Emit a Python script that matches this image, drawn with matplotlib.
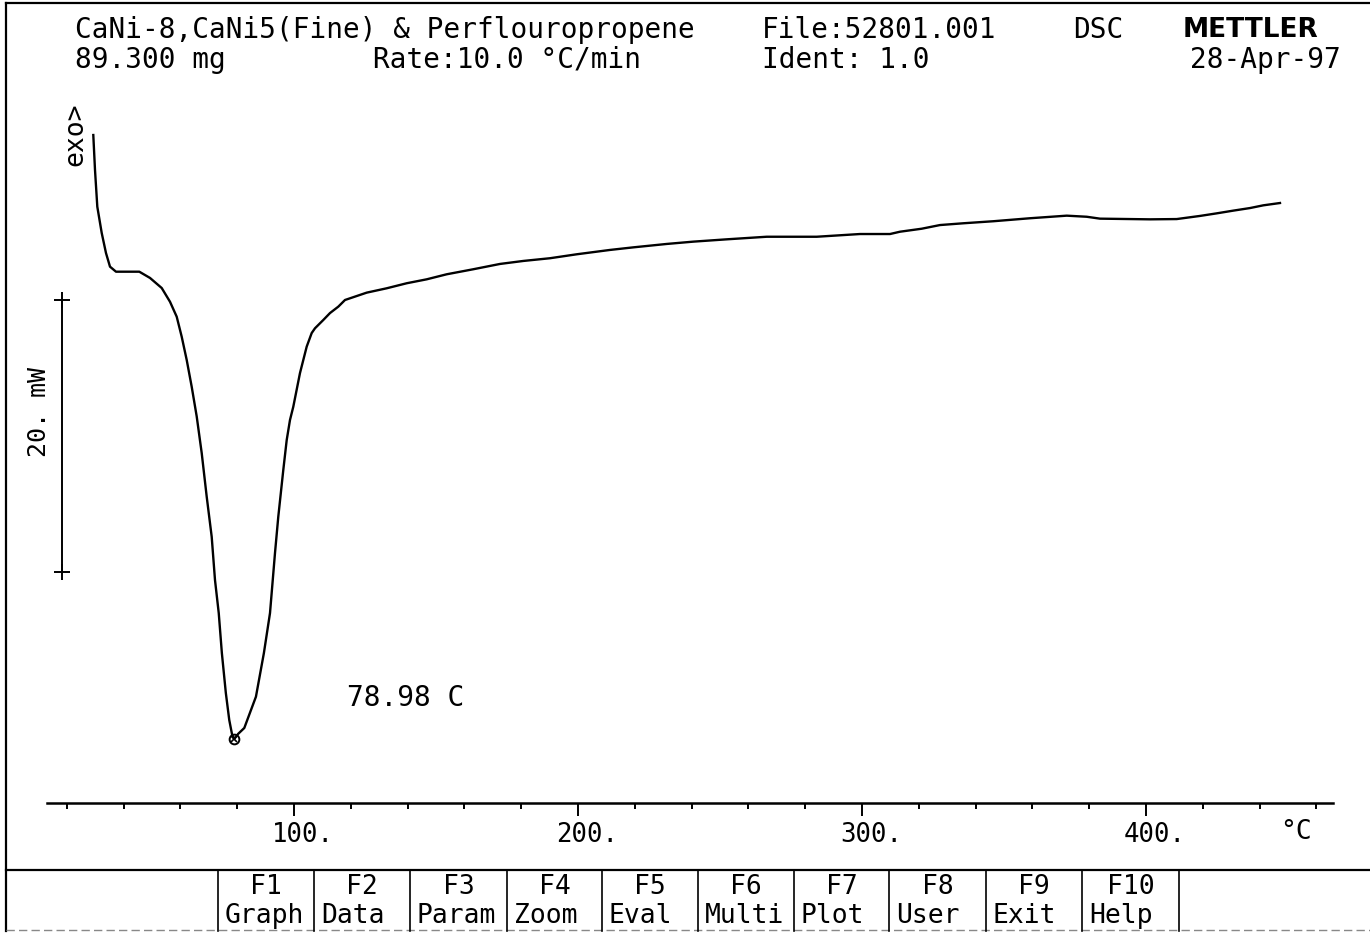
import matplotlib
matplotlib.use("Agg")
import matplotlib.pyplot as plt
from matplotlib.lines import Line2D
from matplotlib.transforms import ScaledTranslation
import numpy as np

# DSC heating curve: sample temperature (°C) and heat flow (mW, arbitrary offset)
temperature_c = [
    29.33, 29.93, 30.74, 32.29, 33.80, 35.21, 37.32, 45.53, 49.30, 53.42,
    56.34, 58.70, 60.46, 62.22, 63.98, 65.74, 67.50, 69.26, 71.02, 72.18,
    73.50, 74.60, 76.00, 77.20, 78.20, 78.98, 80.30, 82.50, 86.60, 89.40,
    91.55, 93.31, 94.47, 96.23, 97.43, 98.59, 99.75, 102.11, 104.47, 106.23,
    107.39, 110.32, 112.68, 115.60, 117.96, 125.60, 132.64, 139.68, 146.73, 153.77,
    163.13, 172.54, 180.74, 190.14, 199.54, 211.27, 219.47, 231.23, 240.60, 252.36,
    266.44, 284.05, 299.30, 309.86, 313.38, 321.02, 327.46, 335.67, 346.23, 359.15,
    372.08, 379.12, 383.80, 401.41, 410.81, 419.01, 424.89, 430.74, 436.62, 441.30,
    447.18,
]
heat_flow_mw = [
    34.19, 31.62, 28.92, 26.99, 25.51, 24.51, 24.14, 24.14, 23.68, 22.94,
    21.93, 20.83, 19.36, 17.65, 15.68, 13.50, 10.81, 7.60, 4.65, 1.47,
    -0.96, -3.90, -6.84, -8.82, -9.90, -10.22, -9.85, -9.41, -7.11, -3.90,
    -0.96, 3.46, 6.13, 9.56, 11.76, 13.24, 14.21, 16.69, 18.63, 19.63,
    19.98, 20.59, 21.10, 21.57, 22.06, 22.60, 22.92, 23.29, 23.58, 23.95,
    24.32, 24.71, 24.93, 25.13, 25.42, 25.74, 25.93, 26.18, 26.35, 26.52,
    26.71, 26.71, 26.91, 26.91, 27.08, 27.30, 27.57, 27.70, 27.85, 28.07,
    28.26, 28.18, 28.04, 27.99, 28.01, 28.24, 28.43, 28.63, 28.82, 29.02,
    29.19,
]

major_ticks = [100, 200, 300, 400]
major_labels = ["100.", "200.", "300.", "400."]
minor_ticks = list(range(20, 461, 20))

scale_bar_mw = 20.0
scale_bar_x = 18.3
scale_bar_bottom = 2.06

header_left = ["CaNi-8,CaNi5(Fine) & Perflouropropene", "89.300 mg"]
header_mid = ["Rate:10.0 °C/min"]
header_file = ["File:52801.001", "Ident: 1.0"]
header_mode = "DSC"
header_brand = "METTLER"
header_date = "28-Apr-97"

fkey_ids = ["F1", "F2", "F3", "F4", "F5", "F6", "F7", "F8", "F9", "F10"]
fkey_names = ["Graph", "Data", "Param", "Zoom", "Eval", "Multi", "Plot", "User", "Exit", "Help"]

MONO = "DejaVu Sans Mono"
W, H = 1370, 933
fig = plt.figure(figsize=(W / 100, H / 100), dpi=100, facecolor="white")

# Screen frame, header and function-key bar in pixel coordinates
frame = fig.add_axes([0, 0, 1, 1])
frame.set_xlim(0, W)
frame.set_ylim(H, 0)
frame.axis("off")

frame.add_line(Line2D([6, W], [3, 3], color="black", lw=1.6))
frame.add_line(Line2D([6, 6], [3, 931], color="black", lw=1.6))
frame.add_line(Line2D([6, W], [870, 870], color="black", lw=1.6))
frame.add_line(Line2D([6, W], [930, 930], color="#888888", lw=1.0, ls=(0, (6, 3))))

seps = [218, 314, 410, 507, 602, 698, 794, 889, 986, 1082, 1179]
for sx in seps:
    frame.add_line(Line2D([sx, sx], [870, 931], color="black", lw=1.2))
for i, (fid, name) in enumerate(zip(fkey_ids, fkey_names)):
    left, right = seps[i], seps[i + 1]
    frame.text((left + right) / 2, 887, fid, family=MONO, fontsize=19,
               ha="center", va="center")
    frame.text(left + 7, 916, name, family=MONO, fontsize=19,
               ha="left", va="center")

frame.text(75, 30, header_left[0], family=MONO, fontsize=20, ha="left", va="center")
frame.text(75, 60, header_left[1], family=MONO, fontsize=20, ha="left", va="center")
frame.text(373, 60, header_mid[0], family=MONO, fontsize=20, ha="left", va="center")
frame.text(762, 30, header_file[0], family=MONO, fontsize=20, ha="left", va="center")
frame.text(762, 60, header_file[1], family=MONO, fontsize=20, ha="left", va="center")
frame.text(1073, 30, header_mode, family=MONO, fontsize=20, ha="left", va="center")
frame.text(1183, 30, header_brand, family="DejaVu Sans", fontweight="bold",
           fontsize=19, ha="left", va="center")
frame.text(1190, 60, header_date, family=MONO, fontsize=20, ha="left", va="center")

frame.text(75, 134, "exo>", family=MONO, fontsize=19, rotation=90,
           ha="center", va="center")
frame.text(1296, 832, "°C", family=MONO, fontsize=19, ha="center", va="center")

# Measurement axes
ax_left, ax_right, ax_bottom, ax_top = 47, 1333, 802.7, 90
ax = fig.add_axes([ax_left / W, 1 - ax_bottom / H,
                   (ax_right - ax_left) / W, (ax_bottom - ax_top) / H])
ax.patch.set_alpha(0)
ax.set_xlim((ax_left - 10) / 2.84, (ax_right - 10) / 2.84)
ax.set_ylim((600 - ax_bottom) / 13.6, (600 - ax_top) / 13.6)
for side in ("top", "left", "right"):
    ax.spines[side].set_visible(False)
ax.spines["bottom"].set_linewidth(1.8)
ax.set_yticks([])
ax.set_xticks(major_ticks)
ax.set_xticklabels(major_labels, family=MONO, fontsize=18.5)
ax.set_xticks(minor_ticks, minor=True)
ax.tick_params(axis="x", which="major", direction="out", length=9, width=1.4, pad=5)
ax.tick_params(axis="x", which="minor", direction="out", length=4.5, width=1.4)
shift = ScaledTranslation(9 / 100, 0, fig.dpi_scale_trans)
for lab in ax.get_xticklabels():
    lab.set_transform(lab.get_transform() + shift)

t = np.array(temperature_c)
q = np.array(heat_flow_mw)
ax.plot(t, q, color="black", lw=1.7, solid_joinstyle="round")

ipk = int(np.argmin(q))
ax.plot(t[ipk], q[ipk], marker="o", ms=7, mfc="none", mec="black", mew=1.4)
ax.plot(t[ipk], q[ipk], marker="x", ms=5, mec="black", mew=1.2)
ax.text(118.7, -7.2, f"{t[ipk]:.2f} C", family=MONO, fontsize=20,
        ha="left", va="center")

# 20 mW scale bar
ax.plot([scale_bar_x, scale_bar_x], [scale_bar_bottom, scale_bar_bottom + scale_bar_mw],
        color="black", lw=1.4, marker="+", ms=12, mew=1.4, clip_on=False)
ax.text(scale_bar_x - 8.0, scale_bar_bottom + scale_bar_mw / 2 + 1.8,
        f"{scale_bar_mw:.0f}. mW", family=MONO, fontsize=18, rotation=90,
        ha="center", va="center", clip_on=False)

fig.savefig("out.png", dpi=100, facecolor="white")
